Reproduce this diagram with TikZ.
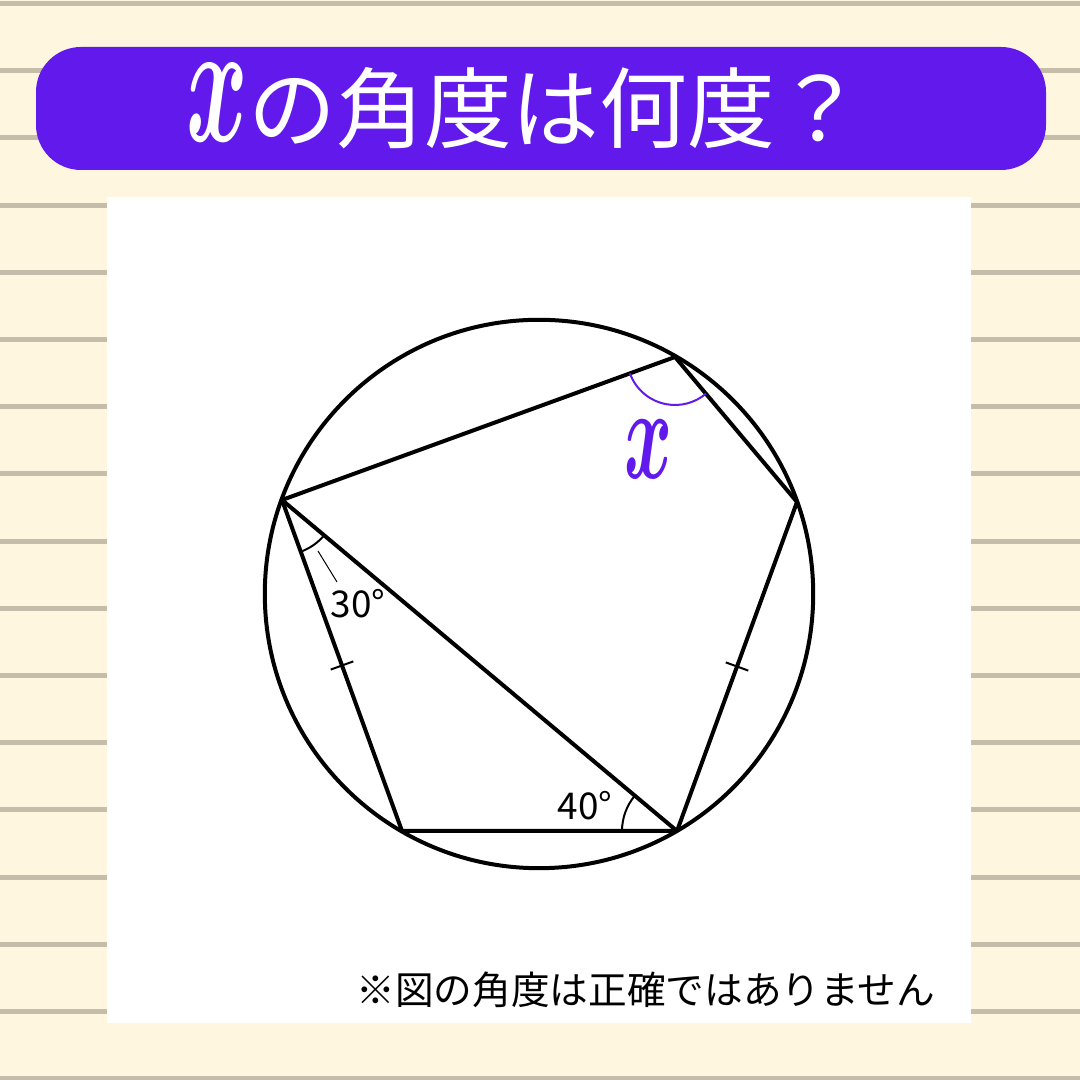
\documentclass[tikz,border=0pt]{standalone}
\usepackage{xcolor}
\usepackage{amsmath}
\usepackage{graphicx}
\usepackage{fontspec}
\usepackage{tikz}
\usetikzlibrary{calc}
\newfontfamily\cjk{Noto Sans CJK JP}

\begin{document}
\begin{tikzpicture}
                        \useasboundingbox (0.000000,0.000000) rectangle (10.800000,10.800000);
                        % Changing color 255 246 223 / 197 189 170 / 98 25 235
                        \definecolor{r255g246b223}{rgb}{1.000000,0.964706,0.874510}%
                        \definecolor{r197g189b170}{rgb}{0.772549,0.741176,0.666667}%
                        \definecolor{r98g25b235}{rgb}{0.384314,0.098039,0.921569}%

                        % Drawing paper with ruled lines
                        \fill [r255g246b223] (0.000000,0.000000) rectangle (10.800000,10.800000);%
                        \foreach \k in {0,...,16}
                          \draw [line width=0.050cm, r197g189b170] (0.000000,{10.765-0.672*\k}) -- (10.800000,{10.765-0.672*\k});%

                        % Drawing white panel
                        \fill [white] (1.070000,0.570000) rectangle (9.710000,8.830000);%

                        % Drawing title bar
                        \fill [r98g25b235, rounded corners=0.45cm] (0.360000,9.100000) rectangle (10.460000,10.330000);%
                        \node (title) [anchor=base, inner sep=0pt, text=white, font=\fontsize{25pt}{30pt}\selectfont]
                          at (5.250000,9.380000) {\scalebox{1.07}[2.00]{$\boldsymbol{x}$}\cjk の角度は何度？};%

                        % Marking points a b c d e
                        \coordinate (a) at (2.820000,5.800000);%
                        \coordinate (b) at (6.750000,7.230000);%
                        \coordinate (c) at (7.970000,5.780000);%
                        \coordinate (d) at (6.770000,2.490000);%
                        \coordinate (e) at (4.020000,2.490000);%
                        \coordinate (o) at (5.390000,4.860000);%

                        % Drawing circle o
                        \draw [line width=0.040cm] (o) circle (2.742000);%

                        % Drawing pentagon a b c d e and diagonal a d
                        \draw [line width=0.040cm, line join=round] (a) -- (b) -- (c) -- (d) -- (e) -- cycle;%
                        \draw [line width=0.040cm] (a) -- (d);%

                        % Marking equal segments a e and c d
                        \coordinate (mae) at ($(a)!0.5!(e)$);%
                        \coordinate (mcd) at ($(c)!0.5!(d)$);%
                        \draw [line width=0.020cm] ($(mae)!0.120cm!90:(e)$) -- ($(mae)!0.120cm!-90:(e)$);%
                        \draw [line width=0.020cm] ($(mcd)!0.120cm!90:(d)$) -- ($(mcd)!0.120cm!-90:(d)$);%

                        {\cjk\fontsize{10.5pt}{12pt}\selectfont
                        % Marking angle e a d
                        \draw [line width=0.020cm] ([shift={(-70.07:0.550000)}]a) arc [start angle=-70.07, end angle=-39.96, radius=0.550000];%
                        \node (ang30) [inner sep=0pt] at (3.580000,4.760000) {30°};%
                        \coordinate (lead1) at (3.180000,5.290000);%
                        \coordinate (lead2) at (3.370000,4.980000);%
                        \draw [line width=0.010cm] (lead1) -- (lead2);%

                        % Marking angle a d e
                        \draw [line width=0.020cm] ([shift={(140.04:0.550000)}]d) arc [start angle=140.04, end angle=180.00, radius=0.550000];%
                        \node (ang40) [inner sep=0pt] at (5.850000,2.740000) {40°};%
                        }

                        % Marking angle a b c by x
                        \draw [line width=0.020cm, r98g25b235] ([shift={(200.00:0.480000)}]b) arc [start angle=200.00, end angle=310.10, radius=0.480000];%
                        \node (angx) [inner sep=0pt, text=r98g25b235, font=\fontsize{20pt}{24pt}\selectfont]
                          at (6.490000,6.310000) {\scalebox{1}[1.80]{$\boldsymbol{x}$}};%

                        % Writing note
                        \node (note) [anchor=base east, inner sep=0pt, font=\cjk\fontsize{11pt}{13pt}\selectfont]
                          at (9.360000,0.750000) {※図の角度は正確ではありません};%
\end{tikzpicture}
\end{document}
